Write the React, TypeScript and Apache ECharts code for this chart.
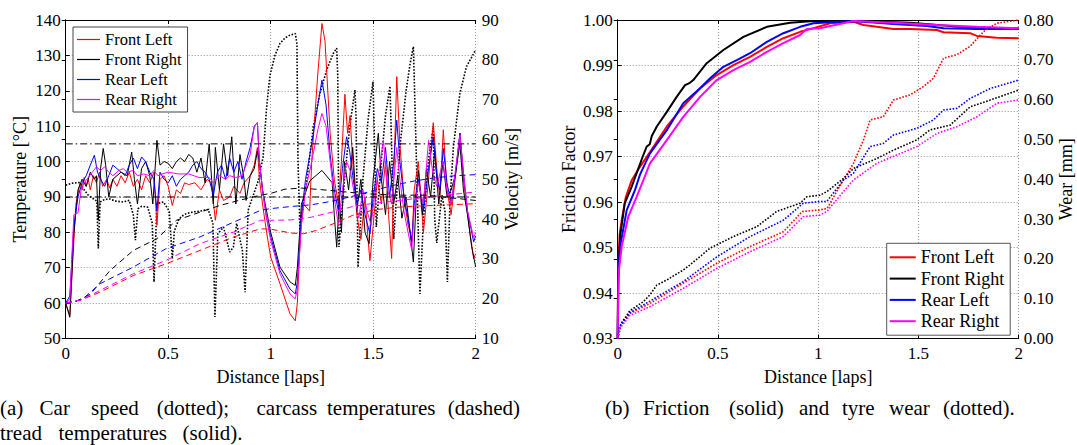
import React, { useEffect, useRef } from "react";
import * as echarts from "echarts";

const FONT = "'Liberation Serif', 'Times New Roman', serif";

// ---------- Left panel data (x in laps) ----------
const speed = [
  [0, 48.5], [0.03, 49], [0.07, 49.2], [0.085, 47.7], [0.11, 46], [0.14, 44.9], [0.152, 44.5], [0.159, 32.6], [0.168, 44.3],
  [0.185, 44.8], [0.21, 45.1], [0.245, 44.5], [0.28, 44.3], [0.31, 44.7], [0.33, 41], [0.34, 34.7], [0.352, 42.6], [0.37, 43.2],
  [0.4, 43], [0.422, 39], [0.431, 24.2], [0.445, 43.9], [0.477, 44.3], [0.505, 42], [0.52, 30], [0.53, 37], [0.55, 39.7],
  [0.565, 40.7], [0.59, 41.4], [0.623, 41.8], [0.655, 42], [0.695, 42.4], [0.718, 39], [0.728, 15.4], [0.742, 36.3], [0.77, 38],
  [0.8, 31.7], [0.818, 33], [0.834, 38.9], [0.862, 32], [0.875, 21.6], [0.89, 42.2], [0.915, 46], [0.94, 49.7], [0.963, 55.6],
  [0.98, 68], [0.996, 76], [1.02, 81], [1.045, 84.1], [1.07, 85.5], [1.094, 86.2], [1.12, 86.6], [1.128, 84], [1.133, 55],
  [1.143, 37.2], [1.16, 44], [1.176, 49.7], [1.208, 63.2], [1.24, 71.6], [1.273, 77.4], [1.305, 81.6], [1.322, 82.9], [1.327, 76],
  [1.333, 33], [1.36, 50], [1.385, 63], [1.411, 72.4], [1.416, 66], [1.426, 27.9], [1.45, 50], [1.475, 65], [1.499, 74.5],
  [1.505, 62], [1.515, 38], [1.54, 55], [1.56, 66], [1.582, 73.4], [1.59, 58], [1.6, 35], [1.63, 58], [1.66, 72], [1.68, 79],
  [1.696, 83.3], [1.703, 70], [1.728, 21.2], [1.745, 40], [1.77, 55], [1.793, 63.2], [1.8, 40], [1.81, 34], [1.835, 46],
  [1.85, 42], [1.862, 24.2], [1.875, 45], [1.891, 58], [1.923, 71.6], [1.955, 78.3], [2.0, 82.5],
];

const treadFL = [
  [0, 60], [0.02, 56.5], [0.04, 78], [0.05, 88], [0.07, 94], [0.08, 92], [0.09, 95.5], [0.1, 93], [0.11, 95], [0.12, 92],
  [0.135, 96], [0.15, 94], [0.165, 97], [0.18, 93], [0.2, 95], [0.215, 92.5], [0.23, 95], [0.25, 93], [0.27, 96], [0.29, 94],
  [0.31, 97], [0.33, 93], [0.35, 95], [0.37, 92], [0.39, 96], [0.41, 94], [0.43, 97], [0.445, 82], [0.46, 95], [0.48, 96],
  [0.5, 93], [0.52, 87.6], [0.54, 92], [0.56, 91], [0.58, 94], [0.6, 93.5], [0.63, 94], [0.66, 92], [0.69, 95], [0.71, 94],
  [0.73, 83.4], [0.75, 92], [0.77, 89], [0.8, 90], [0.82, 93], [0.85, 91], [0.87, 94], [0.9, 96], [0.92, 99], [0.935, 104],
  [0.945, 95], [0.96, 88], [0.98, 80], [1.0, 73], [1.045, 65.5], [1.094, 57], [1.12, 55], [1.13, 60], [1.145, 80], [1.16, 88],
  [1.19, 86], [1.2, 100], [1.23, 125], [1.25, 139], [1.265, 134], [1.29, 108], [1.31, 95], [1.33, 88], [1.345, 100],
  [1.362, 119], [1.375, 108], [1.387, 113], [1.4, 100], [1.42, 85], [1.44, 78], [1.46, 90], [1.475, 78], [1.484, 72],
  [1.5, 82], [1.52, 95], [1.54, 88], [1.56, 100], [1.575, 85], [1.59, 72.6], [1.6, 95], [1.615, 124], [1.63, 105], [1.65, 90],
  [1.67, 82], [1.69, 78], [1.7, 92], [1.72, 100], [1.745, 80], [1.77, 95], [1.793, 111], [1.81, 98], [1.825, 90], [1.842, 109],
  [1.86, 92], [1.88, 85], [1.9, 95], [1.923, 108], [1.94, 95], [1.96, 85], [1.99, 72.6], [2.0, 74],
];

const treadFR = [
  [0, 60], [0.02, 56], [0.04, 80], [0.06, 92], [0.08, 95], [0.1, 93], [0.12, 97], [0.14, 95], [0.15, 96], [0.159, 83.4],
  [0.17, 98], [0.183, 103.7], [0.195, 99], [0.21, 90], [0.23, 95], [0.25, 96], [0.27, 97], [0.3, 96], [0.322, 102.7], [0.335, 95],
  [0.35, 88], [0.37, 98], [0.39, 100], [0.41, 96], [0.425, 88], [0.445, 106], [0.46, 99], [0.48, 100], [0.5, 99.5], [0.52, 98],
  [0.54, 100], [0.56, 101], [0.58, 100], [0.6, 102], [0.62, 101], [0.64, 97], [0.66, 101], [0.68, 94], [0.7, 105], [0.72, 88],
  [0.73, 104], [0.75, 92], [0.77, 105], [0.79, 96], [0.81, 107], [0.83, 88], [0.85, 102], [0.87, 95], [0.88, 89], [0.9, 96],
  [0.92, 98], [0.935, 103], [0.945, 100], [0.96, 92], [0.98, 86], [1.0, 80], [1.045, 70.2], [1.094, 66], [1.12, 65], [1.13, 70],
  [1.15, 88], [1.19, 94.5], [1.25, 97.5], [1.3, 94], [1.31, 85], [1.322, 75.8], [1.335, 90], [1.345, 80], [1.36, 100],
  [1.38, 92], [1.4, 104], [1.42, 86], [1.44, 95], [1.46, 80], [1.48, 76.8], [1.5, 95], [1.525, 108], [1.54, 95], [1.56, 85],
  [1.58, 100], [1.6, 88], [1.62, 96], [1.64, 84], [1.66, 90], [1.68, 80], [1.696, 71.6], [1.71, 90], [1.72, 97.5], [1.74, 85],
  [1.76, 98], [1.78, 90], [1.8, 103], [1.82, 88], [1.84, 100], [1.86, 90], [1.88, 92], [1.9, 96], [1.923, 105], [1.94, 92],
  [1.96, 85], [1.98, 76], [2.0, 70.2],
];

const treadRL = [
  [0, 60], [0.02, 62], [0.04, 82], [0.06, 90], [0.08, 94], [0.1, 96], [0.12, 99], [0.14, 101.8], [0.155, 97], [0.17, 95],
  [0.19, 93], [0.21, 96], [0.23, 99], [0.25, 98], [0.27, 97], [0.29, 96], [0.31, 99], [0.33, 101], [0.35, 98], [0.37, 101.3],
  [0.39, 100], [0.41, 97], [0.43, 95], [0.445, 86.2], [0.46, 97], [0.48, 95], [0.5, 94], [0.52, 96], [0.54, 93], [0.56, 95],
  [0.58, 96], [0.6, 97], [0.62, 99], [0.64, 100], [0.66, 98], [0.68, 97], [0.7, 95], [0.72, 90.5], [0.74, 97], [0.76, 99],
  [0.78, 95], [0.8, 101], [0.82, 97], [0.84, 100], [0.86, 95], [0.88, 100], [0.9, 104], [0.92, 110], [0.935, 111], [0.945, 100],
  [0.96, 92], [0.98, 84], [1.0, 78.7], [1.045, 69.2], [1.094, 64], [1.12, 62.6], [1.13, 66], [1.15, 85], [1.17, 95], [1.2, 105],
  [1.23, 116], [1.25, 123], [1.27, 116], [1.29, 102], [1.31, 92], [1.33, 86], [1.35, 98], [1.37, 107], [1.385, 103], [1.4, 96],
  [1.42, 88], [1.44, 92], [1.46, 85], [1.484, 79.6], [1.5, 90], [1.52, 98], [1.54, 94], [1.56, 104], [1.58, 90], [1.6, 100],
  [1.615, 111.7], [1.63, 100], [1.65, 90], [1.67, 84], [1.688, 77.3], [1.7, 88], [1.72, 95], [1.745, 86], [1.77, 98],
  [1.793, 107], [1.81, 96], [1.825, 92], [1.842, 103.7], [1.86, 94], [1.88, 88], [1.9, 96], [1.923, 108], [1.94, 97],
  [1.96, 86], [1.99, 77.3], [2.0, 79],
];

const treadRR = [
  [0, 60], [0.02, 61], [0.04, 85], [0.06, 85.5], [0.075, 92], [0.09, 94], [0.11, 95.5], [0.13, 97], [0.15, 98.5], [0.17, 97.5],
  [0.19, 98.5], [0.21, 97], [0.23, 96], [0.26, 97.5], [0.28, 98], [0.3, 97], [0.33, 97.5], [0.35, 96], [0.38, 96.5], [0.41, 96],
  [0.43, 97.5], [0.45, 96], [0.47, 96.5], [0.5, 97], [0.55, 96.5], [0.6, 96.5], [0.65, 95.5], [0.7, 95.5], [0.72, 94],
  [0.75, 96], [0.78, 95], [0.8, 96], [0.83, 95.5], [0.86, 96], [0.88, 99], [0.9, 102], [0.92, 110], [0.935, 111], [0.945, 100],
  [0.96, 92], [0.98, 84], [1.0, 77.7], [1.045, 68.3], [1.094, 62.6], [1.12, 61.2], [1.13, 64], [1.15, 82], [1.17, 92], [1.2, 100],
  [1.23, 109], [1.25, 113.6], [1.27, 110], [1.29, 100], [1.31, 90], [1.33, 82], [1.35, 92], [1.37, 100], [1.39, 97], [1.41, 90],
  [1.43, 84], [1.45, 92], [1.47, 86], [1.49, 82], [1.51, 92], [1.53, 98], [1.55, 106], [1.57, 92], [1.59, 88], [1.615, 104],
  [1.63, 95], [1.65, 86], [1.67, 80], [1.688, 74.9], [1.7, 86], [1.72, 94], [1.745, 88], [1.77, 106], [1.79, 97], [1.81, 93],
  [1.84, 100], [1.86, 92], [1.88, 88], [1.9, 97], [1.923, 107.5], [1.94, 97], [1.96, 86], [1.99, 78.5], [2.0, 80],
];

const carcassFL = [
  [0, 60], [0.08, 61], [0.168, 63.1], [0.33, 67.8], [0.49, 71.1], [0.655, 74.9], [0.82, 78.7], [0.95, 81], [1.0, 80.9],
  [1.1, 79.8], [1.16, 79.6], [1.22, 80.5], [1.3, 82.3], [1.4, 84.8], [1.5, 86.3], [1.6, 87], [1.7, 87.4], [1.8, 87.6], [2.0, 88.1],
];
const carcassFR = [
  [0, 60], [0.05, 60.5], [0.12, 62.5], [0.216, 69.2], [0.33, 74.9], [0.445, 78.2], [0.54, 83.4], [0.655, 85.7], [0.753, 87.6],
  [0.85, 89.1], [0.95, 90.5], [1.0, 91], [1.07, 92.2], [1.15, 92.5], [1.28, 91.9], [1.44, 91], [1.6, 90.5], [1.76, 90.5],
  [1.92, 89.5], [2.0, 89],
];
const carcassRL = [
  [0, 60], [0.08, 61], [0.168, 65.5], [0.33, 70.2], [0.49, 75.4], [0.655, 78.7], [0.82, 82.9], [0.95, 86.2], [1.0, 86.7],
  [1.1, 87.3], [1.2, 87.8], [1.3, 88.8], [1.4, 90.2], [1.5, 91.8], [1.6, 93.3], [1.7, 94.5], [1.8, 95.4], [1.9, 96], [2.0, 96.3],
];
const carcassRR = [
  [0, 60], [0.08, 61], [0.168, 63.6], [0.33, 68.3], [0.49, 72.1], [0.655, 76.8], [0.82, 80.1], [0.95, 83.4], [1.0, 83.4],
  [1.1, 83.5], [1.2, 84.3], [1.3, 85.7], [1.4, 87.3], [1.5, 88.2], [1.6, 88.8], [1.7, 89.5], [1.8, 90.2], [1.9, 90.8], [2.0, 91.4],
];

const refTemps = [105, 90];

// ---------- Right panel data ----------
const frictionFL = [
  [0, 0.93], [0.002, 0.945], [0.01, 0.953], [0.02, 0.956], [0.04, 0.961], [0.07, 0.9648], [0.1, 0.967], [0.161, 0.971],
  [0.245, 0.9766], [0.327, 0.981], [0.411, 0.985], [0.494, 0.9879], [0.577, 0.9901], [0.66, 0.9919], [0.744, 0.9941],
  [0.826, 0.996], [0.91, 0.9974], [0.96, 0.998], [1.06, 0.9993], [1.176, 0.9996], [1.226, 0.9989], [1.292, 0.9985],
  [1.375, 0.998], [1.459, 0.998], [1.592, 0.9978], [1.625, 0.9973], [1.758, 0.9971], [1.791, 0.9965], [1.891, 0.9961], [2.0, 0.996],
];
const frictionFR = [
  [0, 0.93], [0.002, 0.943], [0.012, 0.9524], [0.035, 0.9597], [0.07, 0.9634], [0.1, 0.967], [0.125, 0.97], [0.145, 0.9722],
  [0.16, 0.9727], [0.17, 0.9745], [0.195, 0.9766], [0.245, 0.9798], [0.294, 0.9831], [0.336, 0.9857], [0.36, 0.9862],
  [0.377, 0.9868], [0.444, 0.9905], [0.527, 0.9934], [0.627, 0.9963], [0.744, 0.9985], [0.86, 0.9994], [0.96, 0.9997],
  [1.176, 0.9998], [1.3, 0.9996], [1.459, 0.9994], [1.658, 0.9987], [1.791, 0.9982], [2.0, 0.9982],
];
const frictionRL = [
  [0, 0.93], [0.003, 0.943], [0.012, 0.9502], [0.045, 0.9582], [0.086, 0.9626], [0.111, 0.966], [0.161, 0.9707],
  [0.245, 0.9758], [0.327, 0.9817], [0.411, 0.985], [0.461, 0.9872], [0.527, 0.9897], [0.594, 0.9912], [0.66, 0.9927],
  [0.744, 0.9952], [0.826, 0.9971], [0.91, 0.9985], [0.976, 0.9993], [1.176, 0.9998], [1.375, 0.9991], [1.542, 0.9987],
  [1.625, 0.9982], [1.791, 0.998], [2.0, 0.998],
];
const frictionRR = [
  [0, 0.93], [0.001, 0.934], [0.006, 0.945], [0.02, 0.9502], [0.053, 0.9568], [0.095, 0.9612], [0.128, 0.9648],
  [0.161, 0.9685], [0.245, 0.9736], [0.327, 0.9787], [0.411, 0.9831], [0.494, 0.9868], [0.577, 0.989], [0.66, 0.9908],
  [0.744, 0.993], [0.826, 0.9949], [0.91, 0.9967], [0.943, 0.998], [1.009, 0.9982], [1.176, 0.9998], [1.375, 0.9994],
  [1.592, 0.9989], [1.791, 0.9985], [2.0, 0.9982],
];

const wearFL = [
  [0, 0], [0.01, 0.03], [0.061, 0.063], [0.161, 0.088], [0.327, 0.139], [0.494, 0.189], [0.66, 0.231], [0.826, 0.268],
  [0.92, 0.319], [1.009, 0.323], [1.045, 0.327], [1.11, 0.385], [1.176, 0.44], [1.226, 0.499], [1.259, 0.549], [1.325, 0.557],
  [1.375, 0.599], [1.459, 0.612], [1.525, 0.633], [1.575, 0.654], [1.625, 0.704], [1.692, 0.713], [1.758, 0.734],
  [1.825, 0.771], [1.891, 0.792], [2.0, 0.8],
];
const wearFR = [
  [0, 0], [0.02, 0.04], [0.061, 0.07], [0.128, 0.0925], [0.161, 0.11], [0.195, 0.134], [0.245, 0.147], [0.327, 0.172],
  [0.361, 0.185], [0.461, 0.227], [0.577, 0.256], [0.694, 0.281], [0.793, 0.319], [0.91, 0.34], [0.943, 0.356], [1.009, 0.36],
  [1.043, 0.369], [1.126, 0.402], [1.176, 0.427], [1.292, 0.452], [1.375, 0.473], [1.492, 0.499], [1.558, 0.524],
  [1.658, 0.536], [1.758, 0.582], [1.858, 0.599], [2.0, 0.624],
];
const wearRL = [
  [0, 0], [0.01, 0.03], [0.061, 0.065], [0.161, 0.094], [0.327, 0.143], [0.494, 0.205], [0.66, 0.256], [0.826, 0.297],
  [0.926, 0.34], [1.009, 0.344], [1.043, 0.344], [1.126, 0.398], [1.176, 0.415], [1.259, 0.482], [1.325, 0.49], [1.375, 0.511],
  [1.492, 0.528], [1.575, 0.549], [1.625, 0.574], [1.692, 0.578], [1.758, 0.603], [1.858, 0.628], [2.0, 0.649],
];
const wearRR = [
  [0, 0], [0.01, 0.025], [0.061, 0.058], [0.161, 0.08], [0.327, 0.126], [0.494, 0.176], [0.66, 0.218], [0.826, 0.256],
  [0.926, 0.306], [1.009, 0.31], [1.043, 0.319], [1.126, 0.369], [1.176, 0.398], [1.292, 0.44], [1.392, 0.461],
  [1.492, 0.482], [1.592, 0.515], [1.692, 0.532], [1.792, 0.557], [1.892, 0.591], [2.0, 0.599],
];

const tyreNames = ["Front Left", "Front Right", "Rear Left", "Rear Right"];
const tyreColors = ["#ff0000", "#000000", "#0000ff", "#ff00ff"];

const captionA1 = ["(a)", "Car", "speed", "(dotted);", "carcass", "temperatures", "(dashed)"];
const captionA2 = ["tread", "temperatures", "(solid)."];
const captionB = ["(b)", "Friction", "(solid)", "and", "tyre", "wear", "(dotted)."];

// layout (pixel positions of caption words)
const capA1X = [0, 39.6, 91, 156.7, 256.5, 327, 447.7];
const capA2X = [0, 58.5, 182.5];
const capBX = [605, 643, 729, 799, 842, 889, 943];

export default function App() {
  const ref = useRef<HTMLDivElement>(null);
  useEffect(() => {
    const chart = echarts.init(ref.current!, null, { renderer: "svg" });

    const axisLine = { show: true, lineStyle: { color: "#000", width: 1 } };
    const axisTick = { show: true, inside: true, length: 4, lineStyle: { color: "#000", width: 1 } };
    const gridLine = { show: true, lineStyle: { color: "#777", width: 0.8, type: [1, 2] } };
    const label = (extra: any = {}) => ({ fontFamily: FONT, fontSize: 17, color: "#000", ...extra });
    const nameStyle = { fontFamily: FONT, fontSize: 18, color: "#000" };

    const xAxes = [0, 1].flatMap((g) => [
      {
        gridIndex: g, type: "value", min: 0, max: 2, interval: 0.5, position: "bottom",
        axisLine, axisTick, axisLabel: label({ margin: 6 }), splitLine: gridLine,
        name: "Distance [laps]", nameLocation: "middle", nameGap: 29, nameTextStyle: nameStyle,
      },
      {
        gridIndex: g, type: "value", min: 0, max: 2, interval: 0.5, position: "top",
        axisLine, axisTick, axisLabel: { show: false }, splitLine: { show: false },
      },
    ]);

    const yAxes = [
      {
        gridIndex: 0, type: "value", min: 50, max: 140, interval: 10, position: "left",
        axisLine, axisTick, axisLabel: label({ margin: 5 }), splitLine: gridLine,
        name: "Temperature [°C]", nameLocation: "middle", nameRotate: 90, nameGap: 37, nameTextStyle: nameStyle,
      },
      {
        gridIndex: 0, type: "value", min: 10, max: 90, interval: 10, position: "right",
        axisLine, axisTick, axisLabel: label({ margin: 6 }), splitLine: { show: false },
        name: "Velocity [m/s]", nameLocation: "middle", nameRotate: 90, nameGap: 27, nameTextStyle: nameStyle,
      },
      {
        gridIndex: 1, type: "value", min: 0.93, max: 1.0, interval: 0.01, position: "left",
        axisLine, axisTick, axisLabel: label({ margin: 5, formatter: (v: number) => v.toFixed(2) }), splitLine: gridLine,
        name: "Friction Factor", nameLocation: "middle", nameRotate: 90, nameGap: 40, nameTextStyle: nameStyle,
      },
      {
        gridIndex: 1, type: "value", min: 0, max: 0.8, interval: 0.1, position: "right",
        axisLine, axisTick, axisLabel: label({ margin: 5, formatter: (v: number) => v.toFixed(2) }), splitLine: { show: false },
        name: "Wear [mm]", nameLocation: "middle", nameRotate: 90, nameGap: 36, nameTextStyle: nameStyle,
      },
    ];

    const line = (name: string, data: number[][], xi: number, yi: number, color: string, width: number, type: any) => ({
      type: "line", name, data, xAxisIndex: xi, yAxisIndex: yi, symbol: "none", showSymbol: false,
      lineStyle: { color, width, type }, itemStyle: { color }, silent: true, z: 2,
    });

    const treads = [treadFL, treadFR, treadRL, treadRR];
    const carcasses = [carcassFL, carcassFR, carcassRL, carcassRR];
    const frictions = [frictionFL, frictionFR, frictionRL, frictionRR];
    const wears = [wearFL, wearFR, wearRL, wearRR];

    const series: any[] = [];
    series.push(line("Speed", speed, 0, 1, "#000", 1.6, [1.6, 1.6]));
    treads.forEach((d, i) => series.push(line(tyreNames[i], d, 0, 0, tyreColors[i], 1, "solid")));
    carcasses.forEach((d, i) => series.push(line(tyreNames[i] + " carcass", d, 0, 0, tyreColors[i], 1, [6, 4])));
    refTemps.forEach((t) => series.push(line("Ref " + t, [[0, t], [2, t]], 0, 0, "#000", 1, [7, 3, 1.5, 3])));
    frictions.forEach((d, i) => series.push(line(tyreNames[i] + " friction", d, 2, 2, tyreColors[i], 2, "solid")));
    wears.forEach((d, i) => series.push(line(tyreNames[i] + " wear", d, 2, 3, tyreColors[i], 1.6, [1.6, 1.6])));

    const legendBase = {
      orient: "vertical", selectedMode: false, backgroundColor: "#fff", borderWidth: 1, icon: "rect",
    };

    const capText = (words: string[], xs: number[], y: number) =>
      words.map((w, i) => ({
        type: "text", x: xs[i], y, silent: true,
        style: { text: w, fontFamily: FONT, fontSize: 21, fill: "#000", textAlign: "left", textVerticalAlign: "middle" },
      }));

    chart.setOption({
      animation: false,
      backgroundColor: "#fff",
      grid: [
        { left: 65.7, top: 20, width: 410, height: 318.5 },
        { left: 617.7, top: 20, width: 401, height: 318.5 },
      ],
      xAxis: xAxes,
      yAxis: yAxes,
      legend: [
        {
          ...legendBase, left: 73, top: 27, itemWidth: 23, itemHeight: 1.2, itemGap: 3, padding: [4, 6, 4, 4],
          borderColor: "#444",
          data: tyreNames.map((n, i) => ({ name: n, itemStyle: { color: tyreColors[i] } })),
          textStyle: { fontFamily: FONT, fontSize: 16.5, color: "#000", lineHeight: 16.5 },
        },
        {
          ...legendBase, left: 886.7, top: 243.3, itemWidth: 26, itemHeight: 2, itemGap: 3.3, padding: [5, 6, 5, 3],
          borderColor: "#555",
          data: tyreNames.map((n, i) => ({ name: n, itemStyle: { color: tyreColors[i] } })),
          textStyle: { fontFamily: FONT, fontSize: 18, color: "#000", lineHeight: 18 },
        },
      ],
      graphic: [
        ...capText(captionA1, capA1X, 408),
        ...capText(captionA2, capA2X, 433),
        ...capText(captionB, capBX, 408),
      ],
      series,
    });
    return () => chart.dispose();
  }, []);
  return (
    <div
      ref={ref}
      style={{ position: "absolute", left: 0, top: 0, width: 1077, height: 445, background: "#fff" }}
    />
  );
}
